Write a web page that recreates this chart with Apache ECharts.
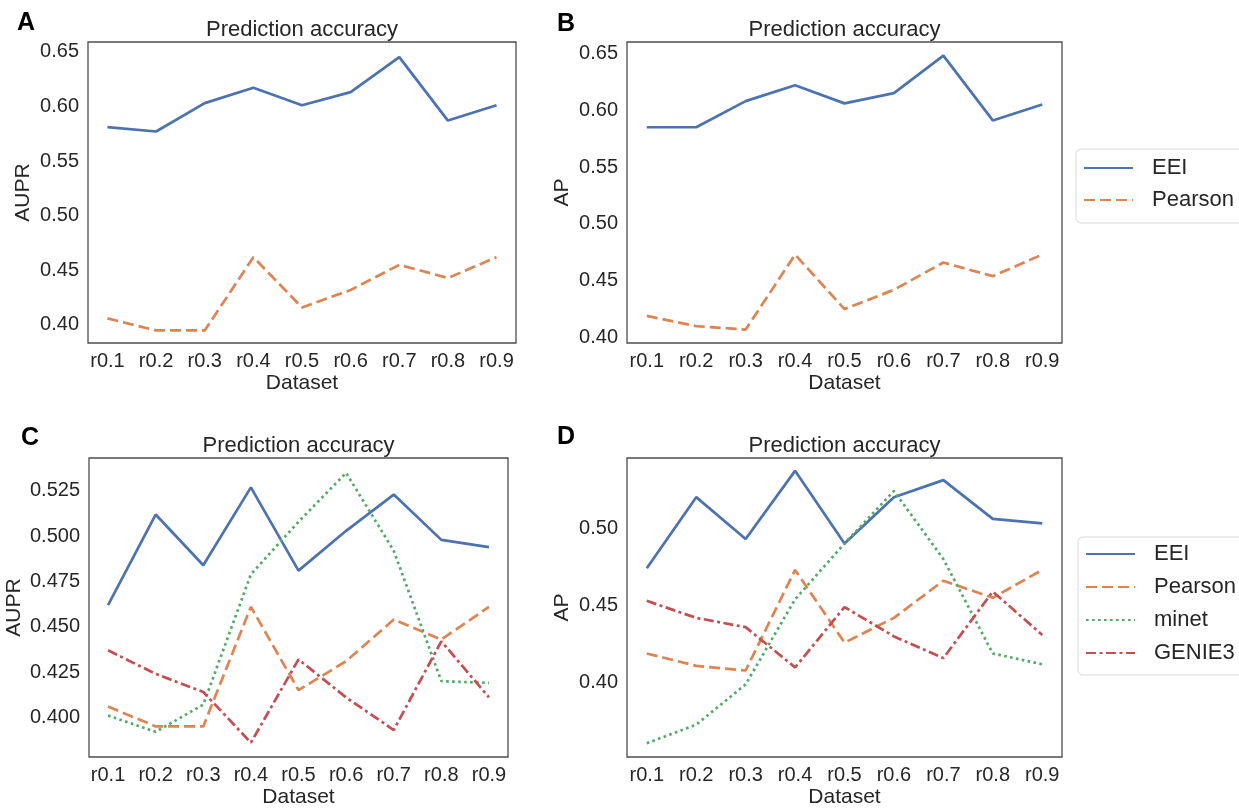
<!DOCTYPE html>
<html>
<head>
<meta charset="utf-8">
<title>Prediction accuracy</title>
<script src="https://cdn.jsdelivr.net/npm/echarts@6/dist/echarts.min.js"></script>
<style>
  html, body { margin: 0; padding: 0; background: #fff; }
  #main { width: 1239px; height: 809px; }
</style>
</head>
<body>
<div id="main"></div>
<script>
const categories = ['r0.1', 'r0.2', 'r0.3', 'r0.4', 'r0.5', 'r0.6', 'r0.7', 'r0.8', 'r0.9']

const aEEI = [0.581, 0.577, 0.603, 0.617, 0.601, 0.613, 0.645, 0.587, 0.601]
const aPearson = [0.406, 0.395, 0.395, 0.462, 0.416, 0.432, 0.455, 0.443, 0.462]
const bEEI = [0.585, 0.585, 0.608, 0.622, 0.606, 0.615, 0.648, 0.591, 0.605]
const bPearson = [0.419, 0.410, 0.407, 0.473, 0.425, 0.442, 0.466, 0.454, 0.473]
const cEEI = [0.462, 0.512, 0.484, 0.527, 0.481, 0.503, 0.523, 0.498, 0.494]
const cPearson = [0.406, 0.395, 0.395, 0.461, 0.415, 0.431, 0.454, 0.443, 0.461]
const cMinet = [0.401, 0.392, 0.407, 0.479, 0.508, 0.535, 0.492, 0.420, 0.419]
const cGenie3 = [0.437, 0.424, 0.414, 0.386, 0.432, 0.411, 0.393, 0.442, 0.411]
const dEEI = [0.474, 0.520, 0.493, 0.537, 0.490, 0.520, 0.531, 0.506, 0.503]
const dPearson = [0.419, 0.411, 0.408, 0.473, 0.426, 0.442, 0.466, 0.455, 0.473]
const dMinet = [0.361, 0.373, 0.399, 0.454, 0.490, 0.524, 0.480, 0.419, 0.412]
const dGenie3 = [0.453, 0.442, 0.436, 0.410, 0.449, 0.430, 0.416, 0.459, 0.431]

const abTicks = [0.40, 0.45, 0.50, 0.55, 0.60, 0.65]
const cTicks = [0.400, 0.425, 0.450, 0.475, 0.500, 0.525]
const dTicks = [0.40, 0.45, 0.50]

const FONT = "'Liberation Sans', Arial, Helvetica, sans-serif"
const TEXT = '#262626'
const colors = { EEI: '#4c72b0', Pearson: '#dd8452', minet: '#55a868', GENIE3: '#c44e52' }
const dashes = { EEI: 'solid', Pearson: [11, 5], minet: [2.6, 3.4], GENIE3: [10, 3.5, 3, 3.5] }

const panels = [
  { grid: { left: 88, top: 42, width: 428, height: 301 }, yName: 'AUPR', yGap: 54, min: 0.3835, max: 0.6589, ticks: abTicks, digits: 2,
    lines: { EEI: aEEI, Pearson: aPearson } },
  { grid: { left: 627, top: 42, width: 435, height: 301 }, yName: 'AP', yGap: 54, min: 0.3952, max: 0.660, ticks: abTicks, digits: 2,
    lines: { EEI: bEEI, Pearson: bPearson } },
  { grid: { left: 89, top: 458, width: 419, height: 301 }, yName: 'AUPR', yGap: 64, min: 0.3781, max: 0.5432, ticks: cTicks, digits: 3,
    lines: { EEI: cEEI, Pearson: cPearson, minet: cMinet, GENIE3: cGenie3 } },
  { grid: { left: 627, top: 458, width: 435, height: 301 }, yName: 'AP', yGap: 54, min: 0.3521, max: 0.5453, ticks: dTicks, digits: 2,
    lines: { EEI: dEEI, Pearson: dPearson, minet: dMinet, GENIE3: dGenie3 } }
]

const chart = echarts.init(document.getElementById('main'), null, { renderer: 'canvas' })

const grid = []
const xAxis = []
const yAxis = []
const series = []
const graphic = []

panels.forEach((p, i) => {
  grid.push(Object.assign({ show: true, borderColor: '#4d4d4d', borderWidth: 1.3, backgroundColor: '#fff' }, p.grid))
  xAxis.push({
    type: 'value', gridIndex: i, min: -0.4, max: 8.4,
    name: 'Dataset', nameLocation: 'middle', nameGap: 30,
    nameTextStyle: { fontFamily: FONT, fontSize: 21, color: TEXT },
    axisLine: { show: false }, axisTick: { show: false }, splitLine: { show: false },
    axisLabel: {
      customValues: categories.map((c, k) => k),
      formatter: v => categories[Math.round(v)],
      fontFamily: FONT, fontSize: 20, color: TEXT, margin: 8
    }
  })
  yAxis.push({
    type: 'value', gridIndex: i, min: p.min, max: p.max,
    name: p.yName, nameLocation: 'middle', nameGap: p.yGap,
    nameTextStyle: { fontFamily: FONT, fontSize: 21, color: TEXT },
    axisLine: { show: false }, axisTick: { show: false }, splitLine: { show: false },
    axisLabel: {
      customValues: p.ticks,
      formatter: v => v.toFixed(p.digits),
      fontFamily: FONT, fontSize: 20, color: TEXT, margin: 9
    }
  })
  Object.keys(p.lines).forEach(name => {
    series.push({
      type: 'line', name: name, xAxisIndex: i, yAxisIndex: i,
      data: p.lines[name].map((v, k) => [k, v]),
      showSymbol: false, symbol: 'none', animation: false,
      color: colors[name],
      lineStyle: { color: colors[name], width: 2.7, type: dashes[name] }
    })
  })
  const cx = p.grid.left + p.grid.width / 2
  graphic.push({
    type: 'text', x: cx, y: p.grid.top - 12,
    style: { text: 'Prediction accuracy', fontFamily: FONT, fontSize: 22, fill: TEXT, align: 'center', verticalAlign: 'middle' }
  })
})

const letters = [['A', 17, 23], ['B', 557, 24], ['C', 21, 438], ['D', 557, 437]]
letters.forEach(l => {
  graphic.push({
    type: 'text', x: l[1], y: l[2],
    style: { text: l[0], fontFamily: FONT, fontSize: 25, fontWeight: 'bold', fill: '#000', align: 'left', verticalAlign: 'middle' }
  })
})

const legendBase = {
  orient: 'vertical', itemWidth: 49, itemHeight: 14,
  backgroundColor: '#fff', borderColor: '#d9d9d9', borderWidth: 1, borderRadius: 5,
  itemStyle: { opacity: 0 },
  textStyle: { fontFamily: FONT, fontSize: 22, lineHeight: 22, color: TEXT, padding: [0, 0, 0, 14] },
  selectedMode: false
}

const option = {
  backgroundColor: '#fff',
  animation: false,
  grid: grid,
  xAxis: xAxis,
  yAxis: yAxis,
  series: series,
  graphic: graphic,
  legend: [
    Object.assign({}, legendBase, { left: 1076, top: 149, itemGap: 10, padding: [8, 20, 12, 7], data: ['EEI', 'Pearson'] }),
    Object.assign({}, legendBase, { left: 1078, top: 537, itemGap: 11, padding: [6, 20, 11, 7], data: ['EEI', 'Pearson', 'minet', 'GENIE3'] })
  ]
}

chart.setOption(option)
</script>
</body>
</html>
